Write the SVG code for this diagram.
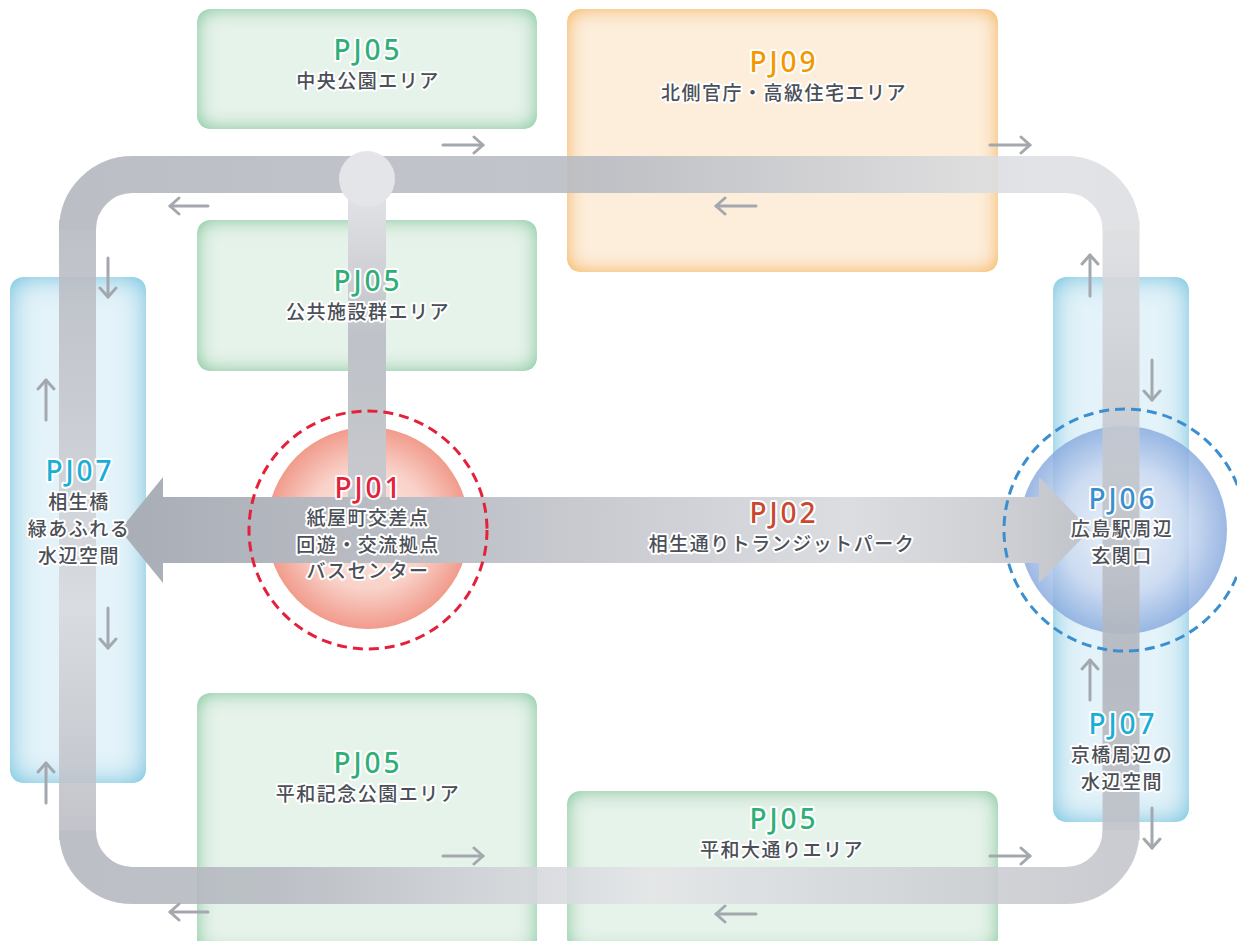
<svg xmlns="http://www.w3.org/2000/svg" width="1237" height="941" viewBox="0 0 1237 941">
<style>
.pj{font-family:"Noto Sans","Lato",sans-serif;font-size:28px;font-weight:500;text-anchor:middle;stroke:#fff;stroke-width:4;stroke-linejoin:round;paint-order:stroke;letter-spacing:3px}
.lb{font-family:"Noto Sans CJK JP","Noto Sans",sans-serif;font-size:19px;font-weight:500;text-anchor:middle;fill:#4b4f57;stroke:#fff;stroke-width:4;stroke-linejoin:round;paint-order:stroke;letter-spacing:1.5px}
.g{fill:#2fae78}.o{fill:#f39800}.c{fill:#1aaed6}.r{fill:#e5213a}.b{fill:#3b8fd0}.br{fill:#c9482f}
.green{fill:#e6f3ea;filter:url(#fg)}
.orange{fill:#fdeedb;filter:url(#fo)}
.blue{fill:#e3f3f9;filter:url(#fb)}
.sa{fill:none;stroke:#a3a8ae;stroke-width:3;stroke-linecap:round;marker-end:url(#ah)}
.trk{fill:none;stroke-width:37}
</style>
<defs>
<marker id="ah" markerUnits="userSpaceOnUse" viewBox="-12 -10 14 20" markerWidth="14" markerHeight="20" refX="0" refY="0" orient="auto">
<path d="M-9 -8 L0 0 L-9 8" fill="none" stroke="#a3a8ae" stroke-width="3" stroke-linecap="round" stroke-linejoin="round"/>
</marker>
<filter id="fg" x="0" y="0" width="1" height="1">
<feGaussianBlur in="SourceAlpha" stdDeviation="10" result="bl"/>
<feComposite in="SourceAlpha" in2="bl" operator="arithmetic" k2="1.4" k3="-1.4" result="edge"/>
<feFlood flood-color="#94d0ab"/>
<feComposite in2="edge" operator="in" result="glow"/>
<feMerge><feMergeNode in="SourceGraphic"/><feMergeNode in="glow"/></feMerge>
</filter>
<filter id="fo" x="0" y="0" width="1" height="1">
<feGaussianBlur in="SourceAlpha" stdDeviation="10" result="bl"/>
<feComposite in="SourceAlpha" in2="bl" operator="arithmetic" k2="1.4" k3="-1.4" result="edge"/>
<feFlood flood-color="#f7c06c"/>
<feComposite in2="edge" operator="in" result="glow"/>
<feMerge><feMergeNode in="SourceGraphic"/><feMergeNode in="glow"/></feMerge>
</filter>
<filter id="fb" x="0" y="0" width="1" height="1">
<feGaussianBlur in="SourceAlpha" stdDeviation="14" result="bl"/>
<feComposite in="SourceAlpha" in2="bl" operator="arithmetic" k2="1.5" k3="-1.5" result="edge"/>
<feFlood flood-color="#8fd0e6"/>
<feComposite in2="edge" operator="in" result="glow"/>
<feMerge><feMergeNode in="SourceGraphic"/><feMergeNode in="glow"/></feMerge>
</filter>
<linearGradient id="gTop" gradientUnits="userSpaceOnUse" x1="60" y1="0" x2="1140" y2="0">
<stop offset="0" stop-color="#b3b6be"/><stop offset="0.42" stop-color="#b9bcc3"/><stop offset="0.5" stop-color="#b6bac2"/><stop offset="0.9" stop-color="#dfe0e3"/><stop offset="1" stop-color="#dedfe2"/>
</linearGradient>
<linearGradient id="gRight" gradientUnits="userSpaceOnUse" x1="0" y1="200" x2="0" y2="880">
<stop offset="0" stop-color="#dedfe2"/><stop offset="0.45" stop-color="#bfc2c8"/><stop offset="0.7" stop-color="#b1b4bc"/><stop offset="1" stop-color="#c3c5cb"/>
</linearGradient>
<linearGradient id="gBot" gradientUnits="userSpaceOnUse" x1="60" y1="0" x2="1140" y2="0">
<stop offset="0" stop-color="#b4b7bf"/><stop offset="0.2" stop-color="#b6b9c1"/><stop offset="0.55" stop-color="#e3e4e7"/><stop offset="0.85" stop-color="#cbcdd2"/><stop offset="1" stop-color="#c3c5cb"/>
</linearGradient>
<linearGradient id="gLeft" gradientUnits="userSpaceOnUse" x1="0" y1="200" x2="0" y2="880">
<stop offset="0" stop-color="#b3b6be"/><stop offset="0.6" stop-color="#d8d9dd"/><stop offset="1" stop-color="#b4b7bf"/>
</linearGradient>
<linearGradient id="gStem" gradientUnits="userSpaceOnUse" x1="0" y1="180" x2="0" y2="500">
<stop offset="0" stop-color="#e5e6e9"/><stop offset="0.5" stop-color="#bec1c7"/><stop offset="1" stop-color="#c8cacf"/>
</linearGradient>
<linearGradient id="gArrow" gradientUnits="userSpaceOnUse" x1="120" y1="0" x2="1090" y2="0">
<stop offset="0" stop-color="#a9adb5"/><stop offset="0.3" stop-color="#bbbec5"/><stop offset="0.75" stop-color="#dcdde1"/><stop offset="0.9" stop-color="#cfd1d5"/><stop offset="1" stop-color="#c0c3c9"/>
</linearGradient>
<radialGradient id="gPJ01" cx="0.5" cy="0.5" r="0.5">
<stop offset="0" stop-color="#fdeae5"/><stop offset="0.6" stop-color="#f9d2c9"/><stop offset="1" stop-color="#f19b8c"/>
</radialGradient>
<radialGradient id="gPJ06" cx="0.5" cy="0.5" r="0.5">
<stop offset="0" stop-color="#eef2fa"/><stop offset="0.6" stop-color="#c9d7f0"/><stop offset="1" stop-color="#86a9de"/>
</radialGradient>
</defs>

<g id="pj05-chuo"><rect class="green" x="197" y="9" width="340" height="120" rx="13"/></g>
<g id="pj09"><rect class="orange" x="567" y="9" width="431" height="263" rx="13"/></g>
<g id="pj05-kokyo"><rect class="green" x="197" y="220" width="340" height="151" rx="13"/></g>
<g id="pj05-heiwakinen"><rect class="green" x="197" y="693" width="340" height="260" rx="13"/></g>
<g id="pj05-heiwaodori"><rect class="green" x="567" y="791" width="431" height="160" rx="13"/></g>
<g id="pj07-left"><rect class="blue" x="10" y="277" width="136" height="506" rx="13"/></g>
<g id="pj07-right"><rect class="blue" x="1053" y="277" width="136" height="545" rx="13"/></g>
<g id="pj01-circle"><circle cx="368" cy="528" r="101" fill="url(#gPJ01)"/></g>
<g id="pj06-circle"><circle cx="1123" cy="530" r="104" fill="url(#gPJ06)" opacity="0.82"/></g>

<g id="connectors">
<g opacity="0.88">
<path class="trk" stroke="url(#gRight)" d="M1121 220 V840"/>
<path class="trk" stroke="url(#gLeft)" d="M77.5 840 V220"/>
<path class="trk" stroke="url(#gTop)" d="M77.5 229.5 A55 55 0 0 1 132.5 174.5 H1066 A55 55 0 0 1 1121 229.5"/>
<path class="trk" stroke="url(#gBot)" d="M1121 830.5 A55 55 0 0 1 1066 885.5 H132.5 A55 55 0 0 1 77.5 830.5"/>
</g>
<rect x="348" y="180" width="38" height="320" fill="url(#gStem)"/>
<circle cx="367" cy="179" r="28" fill="#e4e5e8"/>
<polygon points="120,530 163,477 163,497 1039,497 1039,477 1090,530 1039,583 1039,563 163,563 163,583" fill="url(#gArrow)"/>
<circle cx="368" cy="530" r="119" fill="none" stroke="#e5213a" stroke-width="3" stroke-dasharray="10 6"/>
<circle cx="1125" cy="530" r="121" fill="none" stroke="#3b8fd0" stroke-width="3" stroke-dasharray="10 6"/>
<path class="sa" d="M443 145 H483"/>
<path class="sa" d="M208 206 H170"/>
<path class="sa" d="M756 206 H716"/>
<path class="sa" d="M990 145 H1030"/>
<path class="sa" d="M108 258 V297"/>
<path class="sa" d="M46 420 V380"/>
<path class="sa" d="M108 608 V648"/>
<path class="sa" d="M46 803 V763"/>
<path class="sa" d="M208 912 H170"/>
<path class="sa" d="M443 856 H483"/>
<path class="sa" d="M756 914 H716"/>
<path class="sa" d="M990 856 H1030"/>
<path class="sa" d="M1090 296 V255"/>
<path class="sa" d="M1152 360 V400"/>
<path class="sa" d="M1090 700 V660"/>
<path class="sa" d="M1152 808 V848"/>
</g>

<g id="labels">
<text class="pj g" x="368" y="60">PJ05</text>
<text class="lb" x="368" y="88">中央公園エリア</text>
<text class="pj o" x="784" y="72">PJ09</text>
<text class="lb" x="784" y="100">北側官庁・高級住宅エリア</text>
<text class="pj g" x="368" y="291">PJ05</text>
<text class="lb" x="368" y="319">公共施設群エリア</text>
<text class="pj c" x="80" y="481">PJ07</text>
<text class="lb" x="79" y="509">相生橋</text>
<text class="lb" x="79" y="536">緑あふれる</text>
<text class="lb" x="79" y="563">水辺空間</text>
<text class="pj r" x="369" y="498">PJ01</text>
<text class="lb" x="368" y="525">紙屋町交差点</text>
<text class="lb" x="368" y="552">回遊・交流拠点</text>
<text class="lb" x="368" y="578">バスセンター</text>
<text class="pj br" x="784" y="523">PJ02</text>
<text class="lb" x="782" y="551">相生通りトランジットパーク</text>
<text class="pj b" x="1123" y="509">PJ06</text>
<text class="lb" x="1122" y="536">広島駅周辺</text>
<text class="lb" x="1122" y="563">玄関口</text>
<text class="pj c" x="1123" y="734">PJ07</text>
<text class="lb" x="1122" y="762">京橋周辺の</text>
<text class="lb" x="1122" y="789">水辺空間</text>
<text class="pj g" x="368" y="773">PJ05</text>
<text class="lb" x="368" y="801">平和記念公園エリア</text>
<text class="pj g" x="784" y="829">PJ05</text>
<text class="lb" x="782" y="857">平和大通りエリア</text>
</g>
</svg>
